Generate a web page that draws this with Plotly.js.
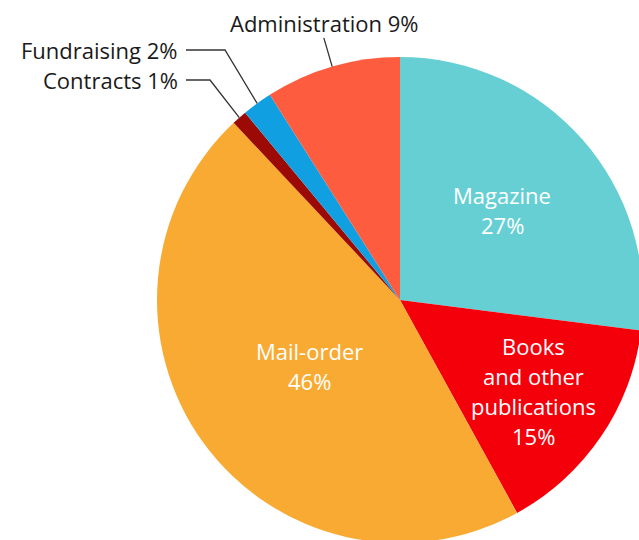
<!DOCTYPE html>
<html>
<head>
<meta charset="utf-8">
<script src="https://cdn.plot.ly/plotly-3.0.1.min.js"></script>
<style>
html,body{margin:0;padding:0;overflow:hidden;background:#fff;}
#chart{width:660px;height:560px;}
</style>
</head>
<body>
<div id="chart"></div>
<script>
// ---- data ----
const labels = ['Magazine', 'Books and other publications', 'Mail-order', 'Contracts', 'Fundraising', 'Administration'];
const values = [27, 15, 46, 1, 2, 9];
const labelLines = [['Magazine'], ['Books', 'and other', 'publications'], ['Mail-order'], ['Contracts'], ['Fundraising'], ['Administration']];
const colors = ['#66CFD4', '#F4000B', '#F9AA32', '#9B0A05', '#109FE0', '#FD5C3E'];

// ---- layout constants (pixels) ----
const W = 660, H = 560;
const CX = 400, CY = 300, R = 243;
const FONT = '"Open Sans", "Noto Sans", sans-serif';
const FS = 22, LINE = 30;
// inside label placement (fraction of radius) ; null = outside label
const insideR = [0.56, 0.665, 0.46, null, null, null];
// outside label layout
const outside = {
  5: {type: 'radial', ext: 30},
  4: {type: 'elbow', elbowX: 225, rowY: 50, lineEnd: 186},
  3: {type: 'elbow', elbowX: 210, rowY: 80, lineEnd: 186}
};

const total = values.reduce((a, b) => a + b, 0);
const pct = values.map(v => Math.round(v / total * 100) + '%');
const px = x => x / W;
const py = y => 1 - y / H;
function pt(theta, r) { return [CX + r * Math.sin(theta), CY - r * Math.cos(theta)]; }

const annotations = [];
const shapes = [];
let cum = 0;
values.forEach((v, i) => {
  const mid = (cum + v / 2) / total * 2 * Math.PI;
  cum += v;
  if (insideR[i] !== null) {
    const [x, y] = pt(mid, insideR[i] * R);
    const lines = labelLines[i].concat([pct[i]]);
    lines.forEach((t, k) => {
      annotations.push({
        xref: 'paper', yref: 'paper', x: px(x), y: py(y),
        xanchor: 'center', yanchor: 'middle', showarrow: false,
        text: t, yshift: -((k - (lines.length - 1) / 2) * LINE),
        font: {family: FONT, size: FS, color: '#ffffff'}
      });
    });
  } else {
    const o = outside[i];
    const [ex, ey] = pt(mid, R);
    const text = labelLines[i].join(' ') + ' ' + pct[i];
    if (o.type === 'radial') {
      const [ox, oy] = pt(mid, R + o.ext);
      shapes.push({type: 'line', xref: 'paper', yref: 'paper', x0: px(ex), y0: py(ey), x1: px(ox), y1: py(oy),
        line: {color: '#333333', width: 1.3}});
      annotations.push({xref: 'paper', yref: 'paper', x: px(ox), y: py(oy), xanchor: 'center', yanchor: 'bottom',
        showarrow: false, text: text, yshift: -2, font: {family: FONT, size: FS, color: '#1a1a1a'}});
    } else {
      shapes.push({type: 'path', xref: 'paper', yref: 'paper',
        path: `M ${px(ex)},${py(ey)} L ${px(o.elbowX)},${py(o.rowY)} L ${px(o.lineEnd)},${py(o.rowY)}`,
        line: {color: '#333333', width: 1.3}});
      annotations.push({xref: 'paper', yref: 'paper', x: px(o.lineEnd - 6), y: py(o.rowY), xanchor: 'right', yanchor: 'middle',
        showarrow: false, text: text, font: {family: FONT, size: FS, color: '#1a1a1a'}});
    }
  }
});

const trace = {
  type: 'pie', labels: labels, values: values, sort: false, direction: 'clockwise', rotation: 0,
  marker: {colors: colors, line: {width: 0}}, textinfo: 'none', hoverinfo: 'label+percent',
  domain: {x: [px(CX - R), px(CX + R)], y: [py(CY + R), py(CY - R)]},
  showlegend: false
};

const layout = {
  width: W, height: H, margin: {l: 0, r: 0, t: 0, b: 0},
  paper_bgcolor: '#ffffff', showlegend: false,
  annotations: annotations, shapes: shapes
};

Plotly.newPlot('chart', [trace], layout, {staticPlot: true, displayModeBar: false});
</script>
</body>
</html>
